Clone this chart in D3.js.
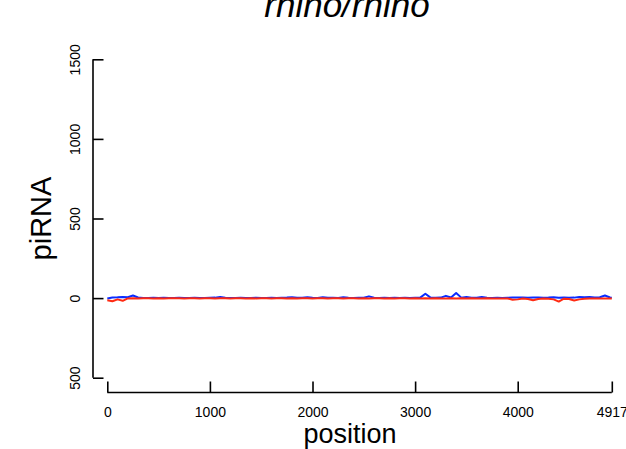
<!DOCTYPE html>
<html>
<head>
<meta charset="utf-8">
<script src="https://cdn.jsdelivr.net/npm/d3@7"></script>
<style>
  html, body { margin: 0; padding: 0; background: #fff; }
  svg { display: block; }
  text { font-family: "Liberation Sans", Arial, Helvetica, sans-serif; fill: #000; }
</style>
</head>
<body>
<svg id="chart" width="626" height="449"></svg>
<script>
// ---- data ----
const title = "rhino/rhino";
const xLabel = "position";
const yLabel = "piRNA";
const xTicks = [0, 1000, 2000, 3000, 4000, 4917];
const yTicks = [-500, 0, 500, 1000, 1500];
const yTickLabels = ["500", "0", "500", "1000", "1500"];

// bin start positions (50 bp bins) and last position
const positions = [
  0, 50, 100, 150, 200, 250, 300, 350, 400, 450,
  500, 550, 600, 650, 700, 750, 800, 850, 900, 950,
  1000, 1050, 1100, 1150, 1200, 1250, 1300, 1350, 1400, 1450,
  1500, 1550, 1600, 1650, 1700, 1750, 1800, 1850, 1900, 1950,
  2000, 2050, 2100, 2150, 2200, 2250, 2300, 2350, 2400, 2450,
  2500, 2550, 2600, 2650, 2700, 2750, 2800, 2850, 2900, 2950,
  3000, 3050, 3100, 3150, 3200, 3250, 3300, 3350, 3400, 3450,
  3500, 3550, 3600, 3650, 3700, 3750, 3800, 3850, 3900, 3950,
  4000, 4050, 4100, 4150, 4200, 4250, 4300, 4350, 4400, 4450,
  4500, 4550, 4600, 4650, 4700, 4750, 4800, 4850, 4900, 4917
];
// sense piRNA (blue, plotted positive)
const senseValues = [
  -3, 4, 5, 7, 5, 16, 4, 1, 1, 2,
  1, 2, 1, 1, 2, 1, 1, 2, 1, 1,
  2, 3, 7, 2, 1, 1, 2, 1, 1, 2,
  1, 1, 2, 1, 2, 3, 5, 2, 2, 6,
  2, 1, 5, 2, 2, 1, 5, 2, 1, 2,
  2, 11, 2, 1, 2, 1, 2, 1, 2, 1,
  2, 3, 27, 3, 2, 3, 14, 4, 32, 3,
  7, 2, 2, 7, 2, 1, 2, 1, 2, 3,
  3, 4, 2, 3, 4, 2, 3, 5, 2, 3,
  2, 3, 7, 5, 7, 4, 5, 16, 4, 3
];
// antisense piRNA (red, plotted negative)
const antisenseValues = [
  -14, -20, -8, -17, -2, -1, -2, -1, -1, -2,
  -1, -2, -1, -1, -1, -2, -1, -1, -2, -1,
  -1, -2, -1, -1, -2, -1, -1, -2, -1, -2,
  -1, -1, -2, -1, -1, -2, -1, -2, -1, -1,
  -2, -1, -1, -2, -1, -1, -2, -1, -1, -2,
  -1, -2, -1, -1, -2, -1, -2, -1, -1, -2,
  -1, -2, -1, -2, -1, -3, -2, -1, -2, -1,
  -2, -1, -3, -2, -1, -2, -2, -3, -2, -10,
  -8, -3, -6, -14, -6, -3, -4, -8, -22, -4,
  -6, -15, -8, -4, -3, -2, -3, -2, -2, -2
];

// ---- layout ----
const svg = d3.select("#chart");
const x = d3.scaleLinear().domain([0, 4917]).range([107.3, 611.8]);
const y = d3.scaleLinear().domain([-500, 1500]).range([377.7, 59.3]);
const yAxisX = 93;
const xAxisY = 392.5;

// ---- data lines ----
const senseData = positions.map((p, i) => [p, senseValues[i]]);
const antiData = positions.map((p, i) => [p, antisenseValues[i]]);
const line = d3.line().x(d => x(d[0])).y(d => y(d[1]));

svg.append("path").datum(senseData)
  .attr("d", line).attr("fill", "none")
  .attr("stroke", "#0a2cff").attr("stroke-width", 2).attr("stroke-linejoin", "round");
svg.append("path").datum(antiData)
  .attr("d", line).attr("fill", "none")
  .attr("stroke", "#ff2a12").attr("stroke-width", 2).attr("stroke-linejoin", "round");

// ---- y axis (ticks pointing inward, rotated labels) ----
const yAxis = d3.axisRight(y).tickValues(yTicks).tickSize(10.5)
  .tickFormat((d, i) => yTickLabels[i]);
const gy = svg.append("g").attr("transform", `translate(${yAxisX},0)`).call(yAxis);
gy.select(".domain").attr("d", `M0,${y(1500)}V${y(-500)}`)
  .attr("stroke", "#000").attr("stroke-width", 1.6);
gy.selectAll(".tick line").attr("stroke", "#000").attr("stroke-width", 1.6);
gy.selectAll(".tick text")
  .attr("x", null).attr("dy", null)
  .attr("transform", "translate(-13.5,0) rotate(-90)")
  .attr("text-anchor", "middle")
  .style("font-size", "14px")
  .style("font-family", "'Liberation Sans', Arial, sans-serif");

// ---- x axis (ticks pointing inward) ----
const xAxis = d3.axisTop(x).tickValues(xTicks).tickSize(11).tickFormat(d3.format("d"));
const gx = svg.append("g").attr("transform", `translate(0,${xAxisY})`).call(xAxis);
gx.select(".domain").attr("d", `M${x(0)},0H${x(4917)}`)
  .attr("stroke", "#000").attr("stroke-width", 1.6);
gx.selectAll(".tick line").attr("stroke", "#000").attr("stroke-width", 1.6);
gx.selectAll(".tick text")
  .attr("y", 24.5).attr("dy", null)
  .attr("text-anchor", "middle")
  .style("font-size", "14px")
  .style("font-family", "'Liberation Sans', Arial, sans-serif");

// ---- labels ----
svg.append("text").attr("x", 350).attr("y", 443)
  .attr("text-anchor", "middle").style("font-size", "27px").text(xLabel);
svg.append("text")
  .attr("transform", `translate(51,${(y(1500) + y(-500)) / 2}) rotate(-90)`)
  .attr("text-anchor", "middle").style("font-size", "29px").text(yLabel);
svg.append("text").attr("x", 347).attr("y", 17)
  .attr("text-anchor", "middle").style("font-size", "35px")
  .style("font-style", "italic").text(title);
</script>
</body>
</html>
